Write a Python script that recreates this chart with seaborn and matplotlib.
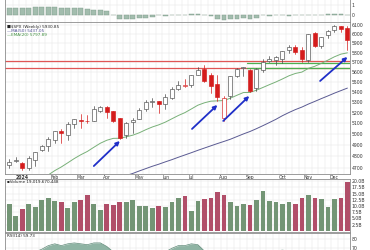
import numpy as np
import pandas as pd
import matplotlib
matplotlib.use("Agg")
import matplotlib.pyplot as plt
import seaborn as sns
from matplotlib.ticker import NullLocator, NullFormatter, FixedLocator

# ---------------- data (weekly $SPX, week of Dec 18 2023 .. Dec 16 2024) ----------------
weeks = list(range(53))
opens = [4725, 4758, 4745, 4703, 4772, 4853, 4892, 4950, 5026, 4989,
         5094, 5133, 5123, 5123, 5219, 5257, 5211, 5149, 4988, 5115,
         5142, 5233, 5305, 5315, 5283, 5342, 5431, 5460, 5471, 5572,
         5630, 5565, 5476, 5152, 5364, 5557, 5637, 5624, 5442, 5615,
         5711, 5726, 5737, 5833, 5857, 5833, 5723, 6008, 5874, 5992,
         6040, 6084, 6063]
highs = [4778, 4793, 4755, 4802, 4842, 4903, 4975, 5030, 5049, 5111,
         5140, 5189, 5180, 5261, 5265, 5264, 5219, 5150, 5114, 5146,
         5239, 5325, 5341, 5315, 5375, 5447, 5506, 5523, 5570, 5655,
         5670, 5585, 5567, 5358, 5563, 5644, 5651, 5627, 5636, 5733,
         5767, 5765, 5822, 5878, 5878, 5863, 5999, 6018, 5972, 6044,
         6099, 6085, 6085]
lows = [4697, 4751, 4682, 4682, 4714, 4845, 4845, 4918, 4920, 4946,
        5058, 5057, 5104, 5117, 5203, 5146, 5107, 4953, 4964, 5011,
        5142, 5211, 5256, 5191, 5234, 5331, 5420, 5447, 5446, 5570,
        5497, 5390, 5306, 5120, 5330, 5552, 5560, 5402, 5406, 5601,
        5705, 5675, 5696, 5796, 5784, 5703, 5697, 5855, 5853, 5956,
        6026, 6024, 5832]
closes = [4755, 4770, 4697, 4784, 4840, 4891, 4959, 5027, 5006, 5089,
          5137, 5124, 5117, 5234, 5254, 5204, 5123, 4967, 5100, 5128,
          5223, 5303, 5305, 5278, 5347, 5431, 5464, 5460, 5567, 5615,
          5505, 5459, 5346, 5344, 5554, 5634, 5648, 5408, 5626, 5703,
          5738, 5751, 5815, 5865, 5808, 5729, 5995, 5870, 5969, 6032,
          6090, 6051, 5931]
close_before_first = 4719

ema20 = [4479, 4507, 4525, 4550, 4578, 4608, 4641, 4678, 4709, 4745,
         4782, 4815, 4844, 4881, 4917, 4944, 4961, 4962, 4975, 4990,
         5012, 5040, 5065, 5085, 5110, 5141, 5172, 5199, 5234, 5270,
         5293, 5309, 5312, 5315, 5338, 5366, 5393, 5394, 5416, 5443,
         5471, 5498, 5528, 5560, 5584, 5598, 5636, 5658, 5688, 5721,
         5756, 5784, 5798]
ma50 = [4290, 4305, 4320, 4334, 4348, 4364, 4382, 4403, 4422, 4446,
        4471, 4494, 4514, 4537, 4559, 4580, 4599, 4616, 4636, 4654,
        4675, 4695, 4715, 4733, 4753, 4772, 4793, 4813, 4833, 4854,
        4874, 4894, 4914, 4933, 4953, 4977, 5001, 5023, 5049, 5077,
        5106, 5136, 5170, 5200, 5228, 5252, 5281, 5307, 5334, 5360,
        5387, 5412, 5437]

volume_b = [10.7, 6.0, 8.9, 10.8, 9.7, 12.4, 13.2, 11.9, 11.7, 9.1,
            11.7, 12.4, 14.3, 10.9, 8.4, 10.8, 10.4, 11.5, 11.7, 12.4,
            10.1, 10.1, 9.3, 10.1, 9.7, 11.5, 13.1, 14.0, 8.0, 12.0,
            12.8, 13.3, 15.5, 14.4, 11.5, 10.0, 10.9, 10.4, 12.3, 15.9,
            12.1, 11.5, 10.8, 11.5, 10.9, 13.2, 14.4, 13.2, 12.9, 9.5,
            12.8, 13.1, 19.5]

top_indicator = [0.75, 0.72, 0.74, 0.75, 0.76, 0.76, 0.77, 0.76, 0.74, 0.73,
                 0.72, 0.70, 0.58, 0.52, 0.50, 0.38, 0.05, -0.35, -0.38, -0.36,
                 -0.30, -0.28, -0.20, 0.05, -0.05, 0.05, 0.05, 0.05, 0.12, 0.10,
                 0.05, -0.05, -0.35, -0.45, -0.40, -0.35, -0.30, -0.35, -0.25, 0.05,
                 -0.05, 0.05, 0.05, -0.05, 0.05, 0.05, 0.05, 0.05, 0.05, 0.12,
                 0.12, 0.12, 0.05]

rsi14 = [66, 67, 62, 65, 66, 69, 73, 75, 73, 75,
         76, 75, 74, 76, 76, 72, 66, 55, 60, 61,
         64, 67, 67, 66, 66, 70, 73, 73, 75, 74,
         67, 65, 60, 59, 64, 66, 66, 58, 64, 66,
         67, 67, 68, 67, 66, 63, 67, 64, 66, 67,
         67, 65, 59.73]

month_labels = ["2024", "Feb", "Mar", "Apr", "May", "Jun", "Jul", "Aug", "Sep", "Oct", "Nov", "Dec"]
month_weeks = [2, 7, 11, 15, 20, 24, 28, 33, 37, 42, 46, 50]
price_ticks = list(range(4700, 6101, 100))
volume_ticks = [2.5, 5.0, 7.5, 10.0, 12.5, 15.0, 17.5, 20.0]
rsi_ticks = [70, 80]
red_levels = [5712, 5642]
green_levels = [5690, 5636]
green_from_week = 37
arrow_tails = [(13.0, 4717), (28.1, 5047), (32.9, 5121), (47.8, 5508)]
arrow_heads = [(17.0, 4937), (32.0, 5272), (36.9, 5359), (52.0, 5754)]

legend_lines = ["$SPX (Weekly) 5930.85", "MA(50) 5437.05", "EMA(20) 5797.89"]
volume_title = "Volume 19,019,670,448"
rsi_title = "RSI(14) 59.73"

# ---------------- styling ----------------
sns.set_theme(style="white")
plt.rcParams["font.family"] = ["DejaVu Sans"]

UP_EDGE = "#4a4a4a"
DOWN = "#d41c1c"
VOL_UP = "#6d9b70"
VOL_DN = "#c23d62"
GRID = "#e4e4e4"
SPINE = "#8c8c8c"
LBL = "#333333"
FS = 3.3

fig = plt.figure(figsize=(3.7, 2.5), dpi=100)
fig.patch.set_facecolor("white")
L, W = 5 / 370, 345 / 370
ax_top = fig.add_axes([L, 1 - 22 / 250, W, 27 / 250])
ax = fig.add_axes([L, 1 - 174 / 250, W, 152 / 250])
ax_vol = fig.add_axes([L, 1 - 232 / 250, W, 53 / 250])
ax_rsi = fig.add_axes([L, 1 - 270 / 250, W, 37 / 250])

xlim = (-0.66, 52.4)
vgrid = list(range(0, 53, 1))

def style_axis(a):
    a.set_facecolor("white")
    for s in a.spines.values():
        s.set_color(SPINE)
        s.set_linewidth(0.6)
    a.yaxis.tick_right()
    a.tick_params(axis="both", length=0, labelsize=FS, colors=LBL, pad=1.2)
    a.set_xlim(*xlim)
    for v in vgrid:
        a.axvline(v + 0.5, color=GRID, lw=0.35, zorder=0)

# ---------------- top indicator panel ----------------
style_axis(ax_top)
ti = np.array(top_indicator)
ax_top.bar(weeks, ti, width=0.72, color="#a3bdae", edgecolor="#7c9a88", linewidth=0.3, zorder=2)
ax_top.set_ylim(-0.7, 2.0)
ax_top.set_yticks([0, 1])
ax_top.set_yticklabels(["0", "1"])
ax_top.set_xticks([])
for yv in [0, 1]:
    ax_top.axhline(yv, color=GRID, lw=0.35, zorder=0)

# ---------------- price panel ----------------
style_axis(ax)
ax.set_yscale("log")
ax.set_ylim(4649, 6133)
ax.yaxis.set_major_locator(FixedLocator(price_ticks))
ax.set_yticks(price_ticks)
ax.set_yticklabels([str(p) for p in price_ticks])
ax.yaxis.set_minor_locator(NullLocator())
ax.yaxis.set_minor_formatter(NullFormatter())
for p in price_ticks:
    ax.axhline(p, color=GRID, lw=0.35, zorder=0)

df = pd.DataFrame({"week": weeks, "open": opens, "high": highs, "low": lows,
                   "close": closes, "ema": ema20, "ma": ma50,
                   "vol": volume_b, "rsi": rsi14})
df["prev"] = df["close"].shift(1).fillna(close_before_first)
df["dir"] = np.where(df["close"] >= df["prev"], "up", "down")

# horizontal levels
for lv in red_levels:
    ax.axhline(lv, color="#e05555", lw=0.9, zorder=1)
for lv in green_levels:
    ax.plot([green_from_week - 0.5, xlim[1]], [lv, lv], color="#4caf50", lw=0.9, zorder=1)

# moving averages
sns.lineplot(data=df, x="week", y="ma", ax=ax, color="#5a5a92", lw=0.7, zorder=2)
sns.lineplot(data=df, x="week", y="ema", ax=ax, color="#78b078", lw=0.7, zorder=2)

# candles
bw = 0.62
for _, r in df.iterrows():
    col = DOWN if r["dir"] == "down" else UP_EDGE
    ax.plot([r["week"], r["week"]], [r["low"], r["high"]], color=col, lw=0.5, zorder=3)
    lo, hi = min(r["open"], r["close"]), max(r["open"], r["close"])
    if hi - lo < 3:
        hi = lo + 3
    filled = r["close"] < r["open"]
    ax.bar(r["week"], hi - lo, bottom=lo, width=bw,
           color=(col if filled else "white"), edgecolor=col, linewidth=0.45, zorder=4)

# arrows
for t, h in zip(arrow_tails, arrow_heads):
    ax.annotate("", xy=h, xytext=t,
                arrowprops=dict(arrowstyle="-|>", color="#1f2fc8", lw=1.3,
                                mutation_scale=5.5, shrinkA=0, shrinkB=0), zorder=6)

ax.set_xlabel("")
ax.set_ylabel("")
ax.set_xticks(month_weeks)
ax.set_xticklabels(month_labels)
ax.tick_params(axis="x", pad=0.8)
ax.get_xticklabels()[0].set_fontweight("bold")
ax.set_xlim(*xlim)

# legend texts
ax.text(0.006, 0.982, "\u25a0" + legend_lines[0].replace("$", r"\$"), transform=ax.transAxes,
        fontsize=3.0, color="#222222", va="top", ha="left")
ax.text(0.006, 0.955, "\u2014" + legend_lines[1], transform=ax.transAxes,
        fontsize=3.0, color="#4a4a90", va="top", ha="left")
ax.text(0.006, 0.928, "\u2014" + legend_lines[2], transform=ax.transAxes,
        fontsize=3.0, color="#3f8f3f", va="top", ha="left")

# ---------------- volume panel ----------------
style_axis(ax_vol)
for v in volume_ticks:
    ax_vol.axhline(v, color=GRID, lw=0.35, zorder=0)
sns.barplot(data=df, x="week", y="vol", hue="dir", palette={"up": VOL_UP, "down": VOL_DN},
            dodge=False, width=0.72, legend=False, ax=ax_vol, linewidth=0,
            zorder=2)
ax_vol.set_ylim(-0.4, 20.8)
ax_vol.set_yticks(volume_ticks)
ax_vol.set_yticklabels([f"{v:.1f}B" for v in volume_ticks])
ax_vol.set_xticks([])
ax_vol.set_xlabel("")
ax_vol.set_ylabel("")
ax_vol.set_xlim(*xlim)
ax_vol.text(0.006, 0.985, "\u25aa" + volume_title, transform=ax_vol.transAxes,
            fontsize=3.0, color="#222222", va="top", ha="left")

# ---------------- RSI panel ----------------
style_axis(ax_rsi)
ax_rsi.fill_between(df["week"], df["rsi"], 0, color="#8fb4a4", lw=0, zorder=1)
sns.lineplot(data=df, x="week", y="rsi", ax=ax_rsi, color="#5f8a78", lw=0.5, zorder=2)
ax_rsi.set_ylim(45.9, 87)
ax_rsi.set_yticks(rsi_ticks)
ax_rsi.set_yticklabels([str(v) for v in rsi_ticks])
for v in rsi_ticks:
    ax_rsi.axhline(v, color=GRID, lw=0.35, zorder=0)
ax_rsi.set_xticks([])
ax_rsi.set_xlabel("")
ax_rsi.set_ylabel("")
ax_rsi.set_xlim(*xlim)
ax_rsi.text(0.006, 0.97, rsi_title, transform=ax_rsi.transAxes,
            fontsize=3.0, color="#222222", va="top", ha="left")

fig.savefig("out.png", dpi=100, facecolor=fig.get_facecolor())
